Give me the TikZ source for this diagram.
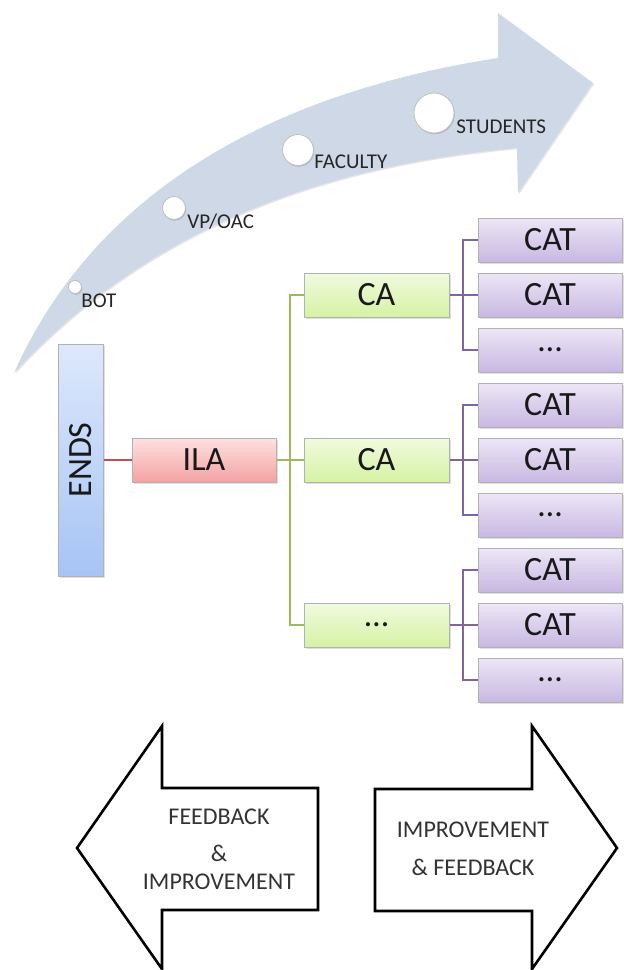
\documentclass[tikz,border=0pt]{standalone}
\usepackage{fontspec}
\setmainfont{Carlito}
\usetikzlibrary{shadows}

\definecolor{bandfill}{HTML}{CFD8E6}
\definecolor{endstop}{HTML}{DDE8FC}
\definecolor{endsbot}{HTML}{A7C4F5}
\definecolor{ilatop}{HTML}{FFE1E1}
\definecolor{ilabot}{HTML}{F3A2A2}
\definecolor{catop}{HTML}{F1FADF}
\definecolor{cabot}{HTML}{D5F2A3}
\definecolor{cattop}{HTML}{EDE6F6}
\definecolor{catbot}{HTML}{C8B8E2}
\definecolor{redline}{HTML}{C0504D}
\definecolor{greenline}{HTML}{9BBB59}
\definecolor{purpleline}{HTML}{8064A2}

\begin{document}
\begin{tikzpicture}[x=0.5pt,y=-0.5pt,
    box/.style={draw=black!30, line width=0.5pt, inner sep=0pt, shading=axis,
      text=black!90, font=\fontsize{17}{20}\selectfont,
      drop shadow={opacity=0.25, shadow xshift=0.8pt, shadow yshift=-0.8pt}},
    endsbox/.style={box, top color=endstop, bottom color=endsbot, minimum width=22.5pt, minimum height=116pt},
    ilabox/.style={box, top color=ilatop, bottom color=ilabot, minimum width=72pt, minimum height=22pt},
    cabox/.style={box, top color=catop, bottom color=cabot, minimum width=72.5pt, minimum height=22pt},
    catbox/.style={box, top color=cattop, bottom color=catbot, minimum width=72pt, minimum height=22pt},
    dot/.style={circle, fill=white, draw=black!25, line width=0.4pt, inner sep=0pt,
      drop shadow={opacity=0.35, shadow xshift=0.4pt, shadow yshift=-0.6pt}},
    steplabel/.style={anchor=base west, inner sep=0pt, text=black!85, font=\fontsize{10.5}{12}\selectfont},
    bigarrow/.style={draw=black, line width=1.3pt, fill=white, line join=miter},
    arrowtext/.style={align=center, inner sep=0pt, text=black!80, font=\fontsize{12}{14}\selectfont},
    redcon/.style={draw=redline, line width=1pt},
    greencon/.style={draw=greenline, line width=1pt},
    purplecon/.style={draw=purpleline, line width=1pt}]

  \useasboundingbox (0,0) rectangle (623,970);

  % curved band
  \path[fill=bandfill, drop shadow={opacity=0.2, shadow xshift=0.6pt, shadow yshift=-0.6pt}]
    (14,373) .. controls (100,180) and (290,90) .. (498,58) -- (498,13) -- (593,83)
    -- (518,193) -- (517,148) .. controls (330,165) and (150,225) .. (14,373) -- cycle;

  \node[dot, minimum size=6.5pt] (botdot) at (75,287) {};
  \node[dot, minimum size=11.5pt] (vpdot) at (174,208) {};
  \node[dot, minimum size=15.5pt] (facdot) at (298,150) {};
  \node[dot, minimum size=20pt] (studdot) at (434,113) {};

  \node[steplabel] (botlab) at (81,307) {BOT};
  \node[steplabel] (vplab) at (187,228) {VP/OAC};
  \node[steplabel] (faclab) at (314,168) {FACULTY};
  \node[steplabel] (studlab) at (456,133) {STUDENTS};

  % tree
  \node[endsbox] (ends) at (80.5,460) {\rotatebox{90}{ENDS}};
  \node[ilabox] (ila) at (204,460) {ILA};

  \node[cabox] (ca1) at (376.5,295) {CA};
  \node[cabox] (ca2) at (376.5,460) {CA};
  \node[cabox] (ca3) at (376.5,625) {\dots};

  \node[catbox] (cat1) at (550,240) {CAT};
  \node[catbox] (cat2) at (550,295) {CAT};
  \node[catbox] (cat3) at (550,350) {\dots};
  \node[catbox] (cat4) at (550,405) {CAT};
  \node[catbox] (cat5) at (550,460) {CAT};
  \node[catbox] (cat6) at (550,515) {\dots};
  \node[catbox] (cat7) at (550,570) {CAT};
  \node[catbox] (cat8) at (550,625) {CAT};
  \node[catbox] (cat9) at (550,680) {\dots};

  \coordinate (trunk) at (290,460);
  \coordinate (fork1) at (463,295);
  \coordinate (fork2) at (463,460);
  \coordinate (fork3) at (463,625);

  \draw[redcon] (ends.east) -- (ila.west);
  \draw[greencon] (ila.east) -- (ca2.west);
  \draw[greencon] (ca1.west) -| (trunk) |- (ca3.west);

  \draw[purplecon] (ca1.east) -- (cat2.west);
  \draw[purplecon] (cat1.west) -| (fork1) |- (cat3.west);
  \draw[purplecon] (ca2.east) -- (cat5.west);
  \draw[purplecon] (cat4.west) -| (fork2) |- (cat6.west);
  \draw[purplecon] (ca3.east) -- (cat8.west);
  \draw[purplecon] (cat7.west) -| (fork3) |- (cat9.west);

  % bottom arrows
  \draw[bigarrow] (77,848) -- (162,726) -- (162,788) -- (318,788) -- (318,910)
    -- (162,910) -- (162,969) -- cycle;
  \draw[bigarrow] (617,848) -- (532,726) -- (532,789) -- (375,789) -- (375,911)
    -- (532,911) -- (532,969) -- cycle;

  \node[arrowtext] (backtext) at (219,849) {FEEDBACK\\[4.5pt]\&\\IMPROVEMENT};
  \node[arrowtext] (fwdtext) at (473,849) {IMPROVEMENT\\[5pt]\& FEEDBACK};
\end{tikzpicture}
\end{document}
